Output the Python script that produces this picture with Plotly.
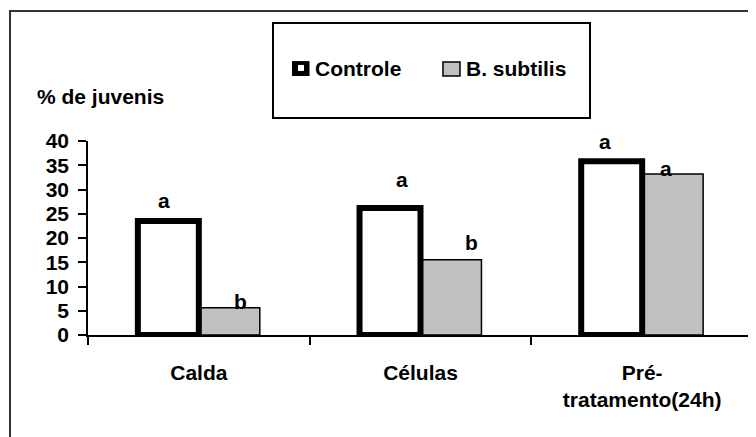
import plotly.graph_objects as go

categories = ["Calda", "Células", "Pré-<br>tratamento(24h)"]
controle = [23.5, 26.2, 35.8]
b_subtilis = [5.6, 15.5, 33.2]
y_ticks = [0, 5, 10, 15, 20, 25, 30, 35, 40]

# significance letters: (category index + shift, y value, text)
letter_x = [-0.157, 0.19, 0.915, 1.23, 1.832, 2.107]
letter_y = [27.8, 6.9, 32.0, 19.0, 39.9, 34.4]
letter_text = ["a", "b", "a", "b", "a", "a"]

FONT = "Liberation Sans, Arial, sans-serif"
FS = 21
BW = 0.275

fig = go.Figure()
fig.add_trace(go.Bar(
    x=categories, y=b_subtilis, name="B. subtilis",
    width=BW, offset=0,
    marker=dict(color="#C0C0C0", line=dict(color="black", width=1.5)),
    cliponaxis=False, showlegend=False,
))
fig.add_trace(go.Bar(
    x=categories, y=controle, name="Controle",
    width=BW, offset=-BW,
    marker=dict(color="white", line=dict(color="black", width=6)),
    cliponaxis=False, showlegend=False,
))

tf = dict(family=FONT, size=FS, color="black", weight="bold")

annotations = []
for xv, yv, t in zip(letter_x, letter_y, letter_text):
    annotations.append(dict(x=xv, y=yv, xref="x", yref="y", text=t,
                            showarrow=False, xanchor="center", yanchor="middle", font=tf))

annotations.append(dict(x=-0.0797, y=1.227, xref="paper", yref="paper", text="% de juvenis",
                        showarrow=False, xanchor="left", yanchor="middle", font=tf))
annotations.append(dict(x=0.3383, y=1.372, xref="paper", yref="paper", text="Controle",
                        showarrow=False, xanchor="left", yanchor="middle", font=tf))
annotations.append(dict(x=0.5654, y=1.372, xref="paper", yref="paper", text="B. subtilis",
                        showarrow=False, xanchor="left", yanchor="middle", font=tf))

shapes = [
    dict(type="rect", xref="paper", yref="paper", x0=-0.1173, x1=1.2, y0=-1.0, y1=1.670,
         line=dict(color="#333333", width=2), fillcolor="rgba(0,0,0,0)", layer="below"),
    dict(type="rect", xref="paper", yref="paper", x0=0.2782, x1=0.7549, y0=1.1186, y1=1.608,
         line=dict(color="black", width=2), fillcolor="white"),
    dict(type="rect", xref="paper", yref="paper", x0=0.3068, x1=0.3331, y0=1.335, y1=1.412,
         line=dict(width=0), fillcolor="black"),
    dict(type="rect", xref="paper", yref="paper", x0=0.3158, x1=0.3248, y0=1.361, y1=1.392,
         line=dict(width=0), fillcolor="white"),
    dict(type="rect", xref="paper", yref="paper", x0=0.5338, x1=0.5594, y0=1.335, y1=1.407,
         line=dict(color="black", width=1.5), fillcolor="#C0C0C0"),
]

fig.update_layout(
    width=756, height=437,
    margin=dict(l=80, r=11, t=133, b=110, pad=0),
    paper_bgcolor="white", plot_bgcolor="white",
    barmode="overlay",
    font=tf,
    showlegend=False,
    annotations=annotations,
    shapes=shapes,
    xaxis=dict(
        type="category", showgrid=False, zeroline=False,
        showline=True, linecolor="black", linewidth=1.5,
        ticks="outside", ticklen=8, tickwidth=1.5, tickcolor="black",
        tickson="boundaries", ticklabelstandoff=18,
        tickfont=tf, range=[-0.5, 2.5],
    ),
    yaxis=dict(
        range=[0, 40], tickvals=y_ticks, showgrid=False, zeroline=False,
        showline=True, linecolor="black", linewidth=1.5,
        ticks="outside", ticklen=8, tickwidth=1.5, tickcolor="black",
        ticklabelstandoff=5, tickfont=tf,
    ),
)

fig.write_html("out.html")
